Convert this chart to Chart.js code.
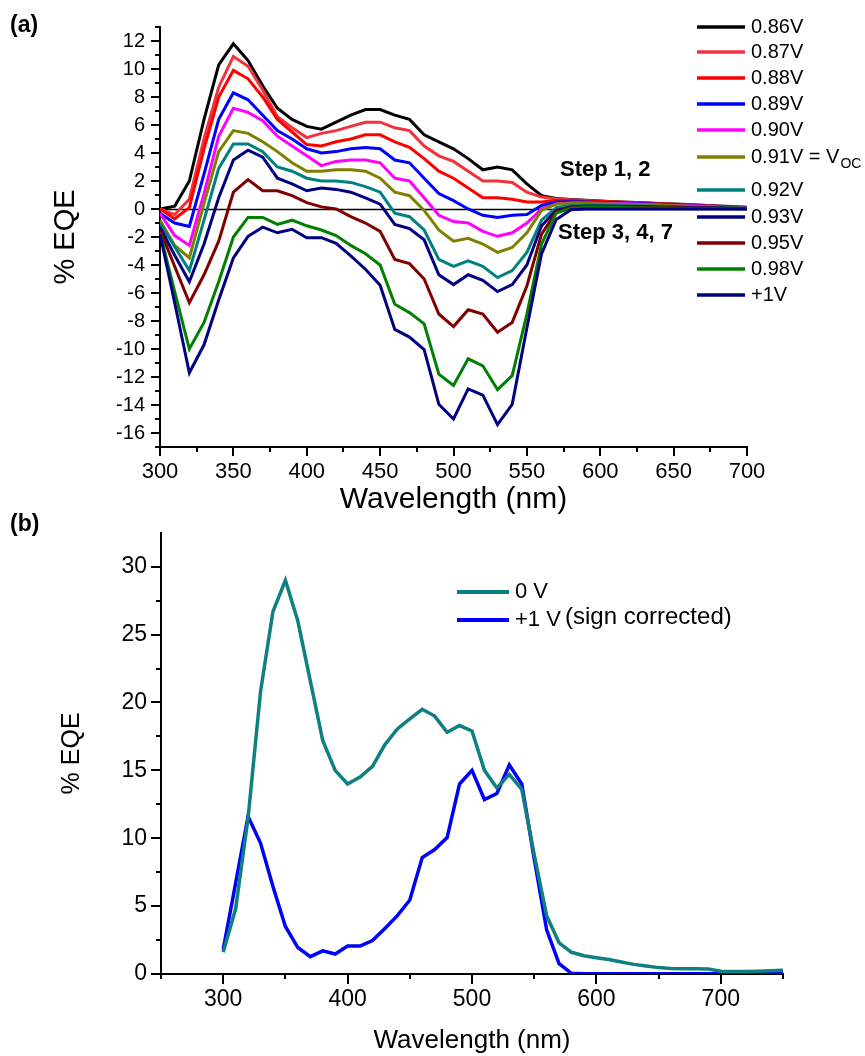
<!DOCTYPE html>
<html><head><meta charset="utf-8">
<script src="https://cdn.jsdelivr.net/npm/chart.js@4.4.0/dist/chart.umd.min.js"></script>
<style>
html,body{margin:0;padding:0;background:#fff;}
#wrap{position:relative;width:865px;height:1056px;overflow:hidden;background:#fff;}
canvas{position:absolute;left:0;}
#ca{top:0;}
#cb{top:505px;}
</style></head><body>
<div id="wrap">
<canvas id="ca" width="865" height="530"></canvas>
<canvas id="cb" width="865" height="551"></canvas>
</div>
<script>
// ---------- Panel (a) data ----------
const wavelengthsA = [300,310,320,330,340,350,360,370,380,390,400,410,420,430,440,450,460,470,480,490,500,510,520,530,540,550,560,570,580,590,600,610,620,630,640,650,660,670,680,690,700];
const seriesLabelsA = ['0.86V','0.87V','0.88V','0.89V','0.90V','0.91V = V_OC','0.92V','0.93V','0.95V','0.98V','+1V'];
const eqe086 = [0.0,0.2,2.0,6.4,10.3,11.8,10.6,8.8,7.2,6.4,5.9,5.7,6.2,6.7,7.1,7.1,6.7,6.4,5.3,4.8,4.3,3.6,2.8,3.0,2.8,1.8,0.95,0.75,0.68,0.62,0.57,0.52,0.48,0.44,0.4,0.36,0.32,0.27,0.22,0.17,0.12];
const eqe087 = [0.0,-0.4,0.7,5.0,8.7,10.9,10.2,8.5,6.6,5.8,5.1,5.4,5.6,5.9,6.2,6.2,5.8,5.6,4.5,3.8,3.4,2.7,2.0,2.0,1.9,1.2,0.85,0.72,0.66,0.6,0.55,0.5,0.46,0.42,0.38,0.34,0.3,0.25,0.2,0.15,0.1];
const eqe088 = [0.0,-0.7,0.1,4.3,8.0,9.9,9.3,8.0,6.4,5.5,4.6,4.5,4.8,5.0,5.3,5.3,4.8,4.4,3.6,2.7,2.2,1.5,0.8,0.8,0.7,0.5,0.5,0.6,0.6,0.57,0.53,0.49,0.45,0.41,0.37,0.33,0.29,0.24,0.19,0.14,0.1];
const eqe089 = [-0.3,-1.0,-1.25,2.5,6.4,8.3,7.8,6.7,5.6,5.0,4.3,4.0,4.1,4.3,4.4,4.3,3.5,3.3,2.2,1.1,0.6,0.0,-0.45,-0.6,-0.45,-0.4,0.25,0.5,0.52,0.5,0.47,0.44,0.41,0.38,0.34,0.3,0.26,0.22,0.17,0.12,0.08];
const eqe090 = [-0.3,-1.9,-2.6,1.1,5.2,7.2,6.9,6.3,5.2,4.5,3.8,3.1,3.4,3.5,3.5,3.3,2.2,2.0,0.8,-0.45,-0.9,-1.0,-1.6,-1.95,-1.7,-1.0,0.0,0.35,0.45,0.45,0.42,0.4,0.37,0.34,0.3,0.27,0.23,0.19,0.15,0.11,0.07];
const eqe091 = [-0.8,-2.6,-3.5,0.4,4.1,5.6,5.4,4.8,4.1,3.3,2.7,2.7,2.8,2.8,2.7,2.2,1.2,0.95,-0.1,-1.5,-2.3,-2.1,-2.5,-3.1,-2.75,-1.7,-0.1,0.35,0.4,0.4,0.38,0.36,0.33,0.3,0.27,0.24,0.2,0.17,0.13,0.1,0.06];
const eqe092 = [-1.0,-2.7,-4.4,-0.8,2.9,4.65,4.65,4.1,3.0,2.7,2.2,2.0,2.0,1.9,1.6,1.2,-0.3,-0.55,-1.5,-3.6,-4.1,-3.7,-4.1,-4.9,-4.4,-3.1,-0.8,0.1,0.25,0.28,0.27,0.25,0.23,0.21,0.19,0.17,0.15,0.12,0.1,0.07,0.05];
const eqe093 = [-1.3,-3.3,-5.2,-2.5,0.8,3.5,4.2,3.7,2.2,1.8,1.3,1.5,1.4,1.2,0.8,0.35,-1.1,-1.4,-2.2,-4.7,-5.4,-4.7,-5.1,-5.9,-5.4,-4.0,-1.2,-0.1,0.15,0.2,0.2,0.19,0.18,0.16,0.15,0.13,0.11,0.09,0.07,0.05,0.03];
const eqe095 = [-1.5,-4.1,-6.7,-4.7,-2.3,1.2,2.1,1.3,1.3,0.95,0.45,0.15,0.0,-0.55,-1.0,-1.6,-3.6,-3.9,-5.0,-7.5,-8.4,-7.2,-7.5,-8.8,-8.1,-5.5,-1.8,-0.2,0.1,0.15,0.15,0.14,0.13,0.12,0.11,0.1,0.08,0.07,0.05,0.04,0.02];
const eqe098 = [-1.7,-5.9,-10.0,-8.1,-5.2,-2.0,-0.6,-0.6,-1.1,-0.8,-1.2,-1.5,-1.9,-2.6,-3.2,-4.0,-6.8,-7.4,-8.2,-11.8,-12.6,-10.7,-11.2,-12.9,-11.9,-7.5,-2.5,-0.3,0.05,0.1,0.1,0.1,0.09,0.08,0.07,0.06,0.05,0.04,0.03,0.02,0.01];
const eqe1V  = [-1.8,-6.7,-11.7,-9.7,-6.5,-3.5,-1.95,-1.3,-1.7,-1.45,-2.05,-2.05,-2.45,-3.35,-4.3,-5.45,-8.6,-9.15,-10.05,-13.95,-15.0,-12.85,-13.3,-15.4,-13.95,-8.5,-3.2,-0.75,-0.05,0.0,0.0,0.0,0.0,0.0,0.0,0.0,0.0,0.0,0.0,0.0,0.0];
const xTicksA = [300,350,400,450,500,550,600,650,700];
const xMinorA = [325,375,425,475,525,575,625,675];
const yTicksA = [-16,-14,-12,-10,-8,-6,-4,-2,0,2,4,6,8,10,12];
const yMinorA = [-17,-15,-13,-11,-9,-7,-5,-3,-1,1,3,5,7,9,11,13];

// ---------- Panel (b) data ----------
const wavelengthsB = [300,310,320,330,340,350,360,370,380,390,400,410,420,430,440,450,460,470,480,490,500,510,520,530,540,550,560,570,580,590,600,610,620,630,640,650,660,670,680,690,700,710,720,730,740,750];
const seriesLabelsB = ['0 V','+1 V'];
const eqe0Vb = [1.6,4.8,11.5,20.8,26.7,29.0,26.0,21.6,17.2,15.0,14.0,14.5,15.3,16.9,18.05,18.8,19.5,19.0,17.8,18.3,17.9,15.0,13.7,14.7,13.6,8.8,4.3,2.3,1.6,1.35,1.2,1.07,0.88,0.71,0.59,0.47,0.4,0.38,0.38,0.36,0.21,0.19,0.19,0.21,0.24,0.28];
const eqe1Vb = [1.8,6.7,11.6,9.65,6.45,3.5,1.95,1.28,1.7,1.47,2.06,2.06,2.46,3.36,4.3,5.45,8.58,9.17,10.05,14.0,15.0,12.85,13.3,15.4,14.0,8.5,3.25,0.76,0.05,0.02,0.02,0.02,0.02,0.02,0.02,0.02,0.02,0.02,0.02,0.02,0.02,0.02,0.02,0.02,0.02,0.02];
const xTicksB = [300,400,500,600,700];
const xMinorB = [250,350,450,550,650,750];
const yTicksB = [0,5,10,15,20,25,30];
const yMinorB = [2.5,7.5,12.5,17.5,22.5,27.5];

// ---------- styles ----------
const FONT = "'Liberation Sans', Arial, Helvetica, sans-serif";
Chart.defaults.font.family = FONT;
Chart.defaults.color = '#000';
const colorsA = ['#000000','#f0323c','#ff0000','#0000ff','#ff00ff','#808000','#008080','#000080','#800000','#008000','#000080'];
const colorsB = ['#0f7f7f','#0000ff'];
const seriesA = [eqe086,eqe087,eqe088,eqe089,eqe090,eqe091,eqe092,eqe093,eqe095,eqe098,eqe1V];
const seriesB = [eqe0Vb,eqe1Vb];

function pts(xs, ys){ return xs.map((x,i)=>({x:x, y:ys[i]})); }

function drawTickMarks(chart, axisId, values, len, horizontal){
  const s = chart.scales[axisId], ctx = chart.ctx, a = chart.chartArea;
  ctx.save(); ctx.strokeStyle = '#000'; ctx.lineWidth = 2; ctx.beginPath();
  values.forEach(v => {
    const p = Math.round(s.getPixelForValue(v));
    if (horizontal){ ctx.moveTo(p, a.bottom); ctx.lineTo(p, a.bottom + len); }
    else { ctx.moveTo(a.left, p); ctx.lineTo(a.left - len, p); }
  });
  ctx.stroke(); ctx.restore();
}

function drawLegendRow(ctx, x0, x1, y, color, lw, label, tx, size){
  ctx.save();
  ctx.strokeStyle = color; ctx.lineWidth = lw;
  ctx.beginPath(); ctx.moveTo(x0, y); ctx.lineTo(x1, y); ctx.stroke();
  ctx.fillStyle = '#000'; ctx.textBaseline = 'middle'; ctx.textAlign = 'left';
  ctx.font = size + 'px ' + FONT;
  const parts = label.split('_');
  ctx.fillText(parts[0], tx, y);
  if (parts[1]){
    const w = ctx.measureText(parts[0]).width;
    ctx.font = Math.round(size*0.68) + 'px ' + FONT;
    ctx.fillText(parts[1], tx + w + 1, y + 7);
  }
  ctx.restore();
}

const pluginA = {
  id: 'panelA',
  beforeDatasetsDraw(chart){
    const ctx = chart.ctx, y0 = Math.round(chart.scales.y.getPixelForValue(0)) + 0.5, a = chart.chartArea;
    ctx.save(); ctx.strokeStyle = '#000'; ctx.lineWidth = 1.3;
    ctx.beginPath(); ctx.moveTo(a.left, y0); ctx.lineTo(a.right, y0); ctx.stroke(); ctx.restore();
  },
  afterDraw(chart){
    const ctx = chart.ctx;
    drawTickMarks(chart, 'x', xTicksA, 9, true);
    drawTickMarks(chart, 'x', xMinorA, 5, true);
    drawTickMarks(chart, 'y', yTicksA, 9, false);
    drawTickMarks(chart, 'y', yMinorA, 5, false);
    const rowsY = [27,52,78,104,130,157,190,217,243,269,295];
    seriesLabelsA.forEach((lab,i)=> drawLegendRow(ctx, 697, 745, rowsY[i], colorsA[i], 3.5, lab, 751, 20));
    ctx.save(); ctx.fillStyle = '#000'; ctx.textBaseline = 'middle'; ctx.textAlign = 'left';
    ctx.font = 'bold 23px ' + FONT;
    ctx.fillText('(a)', 10, 26);
    ctx.font = 'bold 22px ' + FONT;
    ctx.fillText('Step 1, 2', 560, 170);
    ctx.fillText('Step 3, 4, 7', 558, 233);
    ctx.restore();
  }
};

const pluginB = {
  id: 'panelB',
  afterDraw(chart){
    const ctx = chart.ctx;
    drawTickMarks(chart, 'x', xTicksB, 10, true);
    drawTickMarks(chart, 'x', xMinorB, 5, true);
    drawTickMarks(chart, 'y', yTicksB, 10, false);
    drawTickMarks(chart, 'y', yMinorB, 5, false);
    drawLegendRow(ctx, 457, 509, 87, colorsB[0], 4, seriesLabelsB[0], 515, 22);
    drawLegendRow(ctx, 457, 509, 115, colorsB[1], 4, seriesLabelsB[1], 515, 22);
    ctx.save(); ctx.fillStyle = '#000'; ctx.textBaseline = 'middle'; ctx.textAlign = 'left';
    ctx.font = '24px ' + FONT;
    ctx.fillText('(sign corrected)', 565, 112);
    ctx.font = 'bold 23px ' + FONT;
    ctx.fillText('(b)', 10, 20);
    ctx.restore();
  }
};

function axisCommon(){
  return {
    type: 'linear',
    grid: { display: false, drawTicks: false },
    border: { display: true, color: '#000', width: 2 },
  };
}

new Chart(document.getElementById('ca'), {
  type: 'line',
  data: {
    datasets: seriesA.map((ys,i)=>({
      label: seriesLabelsA[i].replace('_',''),
      data: pts(wavelengthsA, ys),
      borderColor: colorsA[i], backgroundColor: colorsA[i],
      borderWidth: 3, pointRadius: 0, tension: 0, fill: false,
      order: seriesA.length - i
    }))
  },
  options: {
    responsive: false, animation: false, events: [],
    layout: { padding: { left: 0, right: 118, top: 15, bottom: 0 } },
    plugins: { legend: { display: false }, tooltip: { enabled: false } },
    scales: {
      x: Object.assign(axisCommon(), {
        position: 'bottom', min: 300, max: 700,
        afterBuildTicks: s => { s.ticks = xTicksA.map(v=>({value:v})); },
        afterFit: s => { s.height = 83; },
        ticks: { font: { size: 22 }, color: '#000', padding: 12, maxRotation: 0, autoSkip: false },
        title: { display: true, text: 'Wavelength (nm)', font: { size: 30 }, color: '#000', padding: { top: 0, bottom: 12 } }
      }),
      y: Object.assign(axisCommon(), {
        position: 'left', min: -17, max: 13,
        afterBuildTicks: s => { s.ticks = yTicksA.map(v=>({value:v})); },
        afterFit: s => { s.width = 160; },
        ticks: { font: { size: 20 }, color: '#000', padding: 15, autoSkip: false },
        title: { display: true, text: '% EQE', font: { size: 29 }, color: '#000', padding: { top: 49, bottom: 0 } }
      })
    }
  },
  plugins: [pluginA]
});

new Chart(document.getElementById('cb'), {
  type: 'line',
  data: {
    datasets: seriesB.map((ys,i)=>({
      label: seriesLabelsB[i],
      data: pts(wavelengthsB, ys),
      borderColor: colorsB[i], backgroundColor: colorsB[i],
      borderWidth: 3.5, pointRadius: 0, tension: 0, fill: false,
      order: i
    }))
  },
  options: {
    responsive: false, animation: false, events: [],
    layout: { padding: { left: 0, right: 82, top: 11.7, bottom: 0 } },
    plugins: { legend: { display: false }, tooltip: { enabled: false } },
    scales: {
      x: Object.assign(axisCommon(), {
        position: 'bottom', min: 250, max: 750,
        afterBuildTicks: s => { s.ticks = xTicksB.map(v=>({value:v})); },
        afterFit: s => { s.height = 82; },
        ticks: { font: { size: 23 }, color: '#000', padding: 12, maxRotation: 0, autoSkip: false },
        title: { display: true, text: 'Wavelength (nm)', font: { size: 26 }, color: '#000', padding: { top: 0, bottom: 0 } }
      }),
      y: Object.assign(axisCommon(), {
        position: 'left', min: 0, max: 32.5,
        afterBuildTicks: s => { s.ticks = yTicksB.map(v=>({value:v})); },
        afterFit: s => { s.width = 161; },
        ticks: { font: { size: 23 }, color: '#000', padding: 14, autoSkip: false },
        title: { display: true, text: '% EQE', font: { size: 25 }, color: '#000', padding: { top: 57, bottom: 0 } }
      })
    }
  },
  plugins: [pluginB]
});
</script>
</body></html>
